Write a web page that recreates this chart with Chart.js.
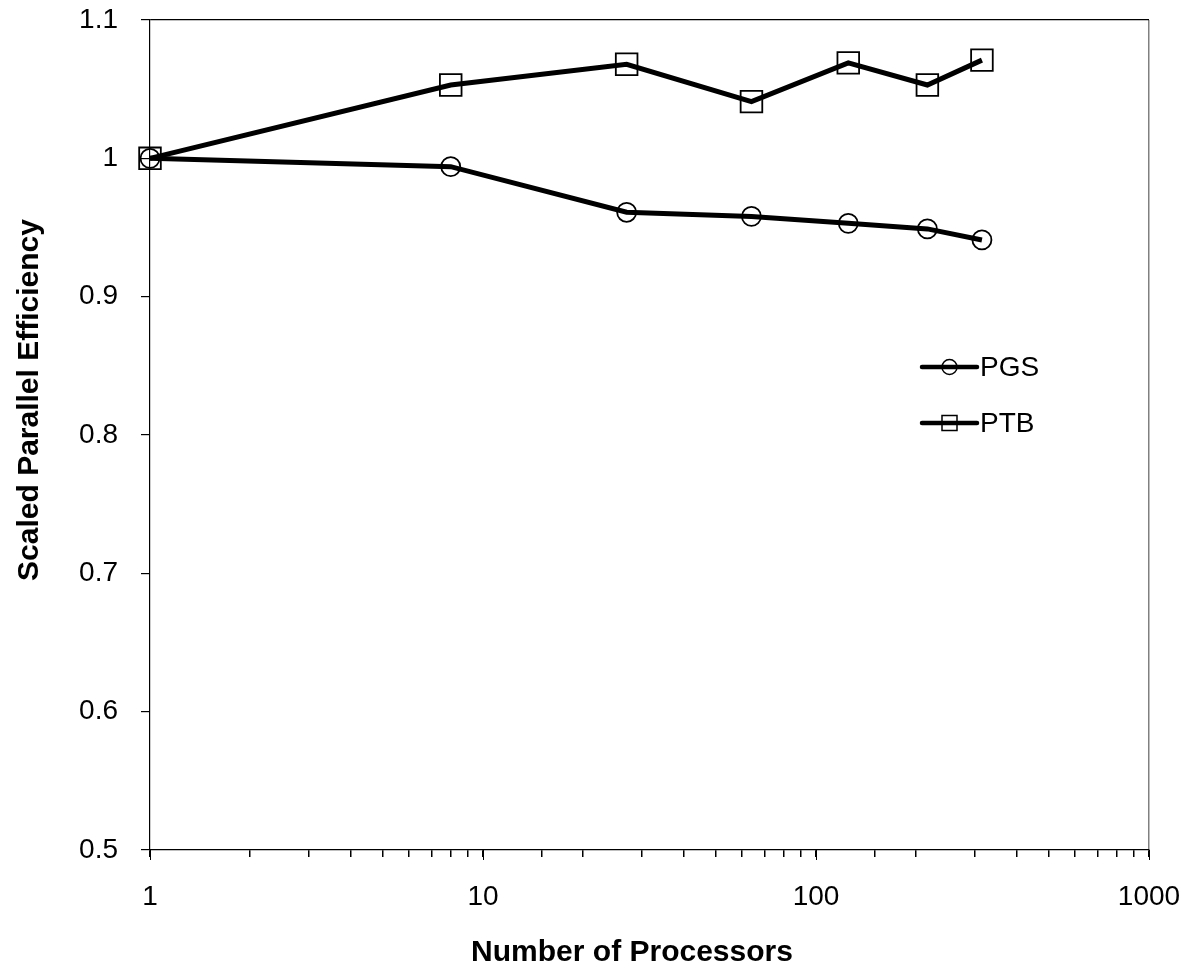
<!DOCTYPE html>
<html>
<head>
<meta charset="utf-8">
<script src="https://cdn.jsdelivr.net/npm/chart.js@4.4.1/dist/chart.umd.min.js"></script>
<style>
  html, body { margin: 0; padding: 0; background: #fff; }
  #wrap { width: 1190px; height: 972px; position: relative; }
</style>
</head>
<body>
<div id="wrap"><canvas id="effChart"></canvas></div>
<script>
// processor counts (x) and scaled efficiency per method
var procs = [1, 8, 27, 64, 125, 216, 315];
var pgsEff = [1.0, 0.994, 0.961, 0.958, 0.953, 0.949, 0.941];
var ptbEff = [1.0, 1.053, 1.068, 1.041, 1.069, 1.053, 1.071];
var xTickLabels = [1, 10, 100, 1000];
var xTitle = 'Number of Processors';
var yTitle = 'Scaled Parallel Efficiency';

var FONT = "'Liberation Sans', Arial, sans-serif";

function toPoints(vals) {
    return procs.map(function (p, i) { return { x: p, y: vals[i] }; });
}

// axis titles, longer decade ticks, and the legend inside the plot
var extras = {
    id: 'extras',
    afterDraw: function (chart) {
        var ctx = chart.ctx;
        var xs = chart.scales.x;

        // decade ticks are a bit longer than the minor ones
        ctx.save();
        ctx.strokeStyle = '#000';
        ctx.lineWidth = 1;
        xTickLabels.forEach(function (v) {
            var px = Math.round(xs.getPixelForValue(v)) + 0.5;
            ctx.beginPath();
            ctx.moveTo(px, xs.top);
            ctx.lineTo(px, xs.top + 10);
            ctx.stroke();
        });
        ctx.restore();

        ctx.save();
        ctx.fillStyle = '#000';
        ctx.font = "bold 30px " + FONT;
        ctx.textAlign = 'center';
        ctx.textBaseline = 'middle';
        ctx.fillText(xTitle, 632, 953);
        ctx.translate(30, 400);
        ctx.rotate(-Math.PI / 2);
        ctx.fillText(yTitle, 0, 0);
        ctx.restore();

        var x0 = 922, x1 = 977, y = 367;
        chart.data.datasets.forEach(function (ds, i) {
            var yy = y + i * 56;
            ctx.save();
            ctx.strokeStyle = '#000';
            ctx.lineWidth = 4.5;
            ctx.lineCap = 'round';
            ctx.beginPath();
            ctx.moveTo(x0, yy);
            ctx.lineTo(x1, yy);
            ctx.stroke();
            ctx.lineWidth = 1.5;
            var cx = (x0 + x1) / 2;
            ctx.beginPath();
            if (ds.pointStyle === 'rect') {
                ctx.rect(cx - 7.5, yy - 7.5, 15, 15);
            } else {
                ctx.arc(cx, yy, 7.5, 0, Math.PI * 2);
            }
            ctx.stroke();
            ctx.fillStyle = '#000';
            ctx.font = "28px " + FONT;
            ctx.textBaseline = 'middle';
            ctx.textAlign = 'left';
            ctx.fillText(ds.label, x1 + 3, yy + 1);
            ctx.restore();
        });
    }
};

var effChart = new Chart(document.getElementById('effChart'), {
    type: 'line',
    data: {
        datasets: [{
            label: 'PGS',
            data: toPoints(pgsEff),
            borderColor: '#000',
            borderWidth: 5,
            pointStyle: 'circle',
            pointRadius: 9.5,
            pointBorderWidth: 1.8,
            pointBorderColor: '#000',
            pointBackgroundColor: 'rgba(0,0,0,0)',
            fill: false,
            tension: 0,
            clip: false
        }, {
            label: 'PTB',
            data: toPoints(ptbEff),
            borderColor: '#000',
            borderWidth: 5,
            pointStyle: 'rect',
            pointRadius: 15.3,
            pointBorderWidth: 1.8,
            pointBorderColor: '#000',
            pointBackgroundColor: 'rgba(0,0,0,0)',
            fill: false,
            tension: 0,
            clip: false
        }]
    },
    options: {
        responsive: true,
        maintainAspectRatio: false,
        animation: false,
        layout: { padding: { top: 20, right: 41, left: 0, bottom: 0 } },
        plugins: {
            legend: { display: false },
            tooltip: { enabled: false }
        },
        scales: {
            x: {
                type: 'logarithmic',
                min: 1,
                max: 1000,
                afterFit: function (scale) {
                    scale.height = 122;
                    scale.paddingLeft = 0;
                    scale.paddingRight = 0;
                },
                border: { color: '#000', width: 1.2 },
                grid: {
                    color: function (c) { return c.tick && c.tick.value === 1000 ? '#808080' : 'rgba(0,0,0,0)'; },
                    lineWidth: 1.5,
                    tickColor: '#000',
                    tickLength: 7
                },
                ticks: {
                    autoSkip: false,
                    maxRotation: 0,
                    padding: 23,
                    color: '#000',
                    font: { family: FONT, size: 28 },
                    callback: function (v) { return xTickLabels.indexOf(v) >= 0 ? String(v) : ''; }
                }
            },
            y: {
                min: 0.5,
                max: 1.1,
                afterFit: function (scale) {
                    scale.width = 150;
                    scale.paddingTop = 0;
                    scale.paddingBottom = 0;
                },
                border: { color: '#000', width: 1.2 },
                grid: {
                    color: function (c) { return c.tick && Math.abs(c.tick.value - 1.1) < 1e-6 ? '#000' : 'rgba(0,0,0,0)'; },
                    lineWidth: 1.2,
                    tickColor: '#000',
                    tickLength: 9
                },
                ticks: {
                    stepSize: 0.1,
                    padding: 23,
                    color: '#000',
                    font: { family: FONT, size: 28 },
                    callback: function (v) { return String(Math.round(v * 10) / 10); }
                }
            }
        }
    },
    plugins: [extras]
});
</script>
</body>
</html>
